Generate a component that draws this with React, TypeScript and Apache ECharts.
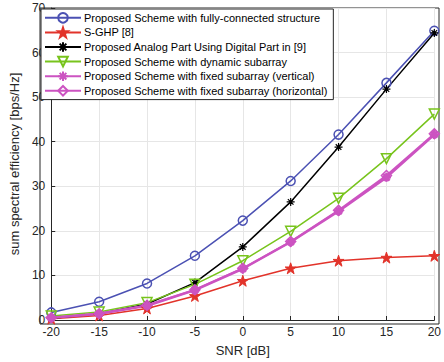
import React, { useEffect, useRef } from "react";
import * as echarts from "echarts";

const snr = [-20, -15, -10, -5, 0, 5, 10, 15, 20];
const fullyConnected = [1.7, 4.1, 8.2, 14.4, 22.3, 31.2, 41.6, 53.2, 64.9];
const sghp = [0.3, 1.0, 2.6, 5.4, 8.8, 11.6, 13.3, 14.0, 14.4];
const analogDigital = [0.4, 1.4, 3.6, 8.4, 16.4, 26.5, 38.8, 51.8, 64.4];
const dynamicSub = [0.9, 1.8, 3.9, 8.0, 13.3, 19.9, 27.3, 36.2, 46.2];
const fixedVertical = [0.5, 1.4, 3.2, 6.7, 11.5, 17.5, 24.4, 32.0, 41.6];
const fixedHorizontal = [0.5, 1.4, 3.3, 6.8, 11.6, 17.6, 24.6, 32.4, 41.8];

const seriesNames = [
  "Proposed Scheme with fully-connected structure",
  "S-GHP [8]",
  "Proposed Analog Part Using Digital Part in [9]",
  "Proposed Scheme with dynamic subarray",
  "Proposed Scheme with fixed subarray (vertical)",
  "Proposed Scheme with fixed subarray (horizontal)",
];

const starPath =
  "path://M50,0 L61.8,35.5 L99,35.5 L69,57.5 L80.4,93 L50,71 L19.6,93 L31,57.5 L1,35.5 L38.2,35.5 Z";
const asteriskPath = "path://M5,0 L5,10 M0,5 L10,5 M1.5,1.5 L8.5,8.5 M8.5,1.5 L1.5,8.5";

export default function App() {
  const ref = useRef<HTMLDivElement>(null);
  useEffect(() => {
    if (!ref.current) return;
    const chart = echarts.init(ref.current, undefined, { renderer: "svg" });
    const font = "Liberation Sans, Arial, sans-serif";
    const mk = (
      name: string,
      values: number[],
      color: string,
      symbol: string,
      size: number,
      hollow: boolean,
      lineWidth: number,
      extra: any = {}
    ) => ({
      name,
      type: "line",
      data: snr.map((x, i) => [x, values[i]]),
      symbol,
      symbolSize: size,
      showAllSymbol: true,
      lineStyle: { color, width: lineWidth },
      itemStyle: hollow
        ? { color: "rgba(255,255,255,0)", borderColor: color, borderWidth: 1.5 }
        : { color, borderColor: color, borderWidth: 1 },
      emphasis: { disabled: true },
      ...extra,
    });
    const blue = "#4b51b3";
    const red = "#e2332a";
    const black = "#000000";
    const green = "#78c41d";
    const magenta = "#cc53c1";
    chart.setOption({
      animation: false,
      backgroundColor: "#ffffff",
      grid: { left: 40, right: 5, top: 8, bottom: 38, containLabel: false },
      xAxis: {
        type: "value",
        min: -20,
        max: 20,
        interval: 5,
        name: "SNR [dB]",
        nameLocation: "middle",
        nameGap: 24,
        nameTextStyle: { fontFamily: font, fontSize: 13, color: "#262626" },
        axisLine: { show: true, onZero: false, lineStyle: { color: "#262626", width: 1 } },
        axisTick: { show: true, inside: true, length: 4, lineStyle: { color: "#262626" } },
        axisLabel: { fontFamily: font, fontSize: 12, color: "#262626", margin: 6 },
        splitLine: { show: true, lineStyle: { color: "#e6e6e6", width: 1 } },
      },
      yAxis: {
        type: "value",
        min: 0,
        max: 70,
        interval: 10,
        name: "sum spectral efficiency [bps/Hz]",
        nameLocation: "middle",
        nameGap: 26,
        nameTextStyle: { fontFamily: font, fontSize: 13, color: "#262626" },
        axisLine: { show: true, onZero: false, lineStyle: { color: "#262626", width: 1 } },
        axisTick: { show: true, inside: true, length: 4, lineStyle: { color: "#262626" } },
        axisLabel: { fontFamily: font, fontSize: 12, color: "#262626", margin: 6 },
        splitLine: { show: true, lineStyle: { color: "#e6e6e6", width: 1 } },
      },
      legend: {
        orient: "vertical",
        left: 41,
        top: 9,
        padding: [3, 6, 3, 3],
        itemGap: 3,
        itemWidth: 36,
        itemHeight: 12,
        backgroundColor: "#ffffff",
        borderColor: "#262626",
        borderWidth: 1,
        textStyle: { fontFamily: font, fontSize: 11, color: "#000000", padding: [0, 0, 0, -2] },
        data: seriesNames,
      },
      graphic: [
        {
          type: "rect",
          shape: { x: 40, y: 8, width: 399, height: 316 },
          style: { fill: "none", stroke: "#262626", lineWidth: 1 },
          silent: true,
          z: 0,
        },
      ],
      series: [
        mk(seriesNames[0], fullyConnected, blue, "circle", 9, true, 1.5),
        mk(seriesNames[1], sghp, red, starPath, 11, false, 1.5),
        mk(seriesNames[2], analogDigital, black, asteriskPath, 8, false, 1.5, {
          itemStyle: { color: black, borderColor: black, borderWidth: 1.2 },
        }),
        mk(seriesNames[3], dynamicSub, green, "triangle", 10, true, 1.5, { symbolRotate: 180 }),
        mk(seriesNames[4], fixedVertical, magenta, asteriskPath, 9, false, 2.5, {
          itemStyle: { color: magenta, borderColor: magenta, borderWidth: 2.5 },
        }),
        mk(seriesNames[5], fixedHorizontal, magenta, "diamond", 10, true, 2),
      ],
    });
    return () => chart.dispose();
  }, []);
  return <div ref={ref} style={{ width: 444, height: 362, position: "absolute", left: 0, top: 0 }} />;
}
